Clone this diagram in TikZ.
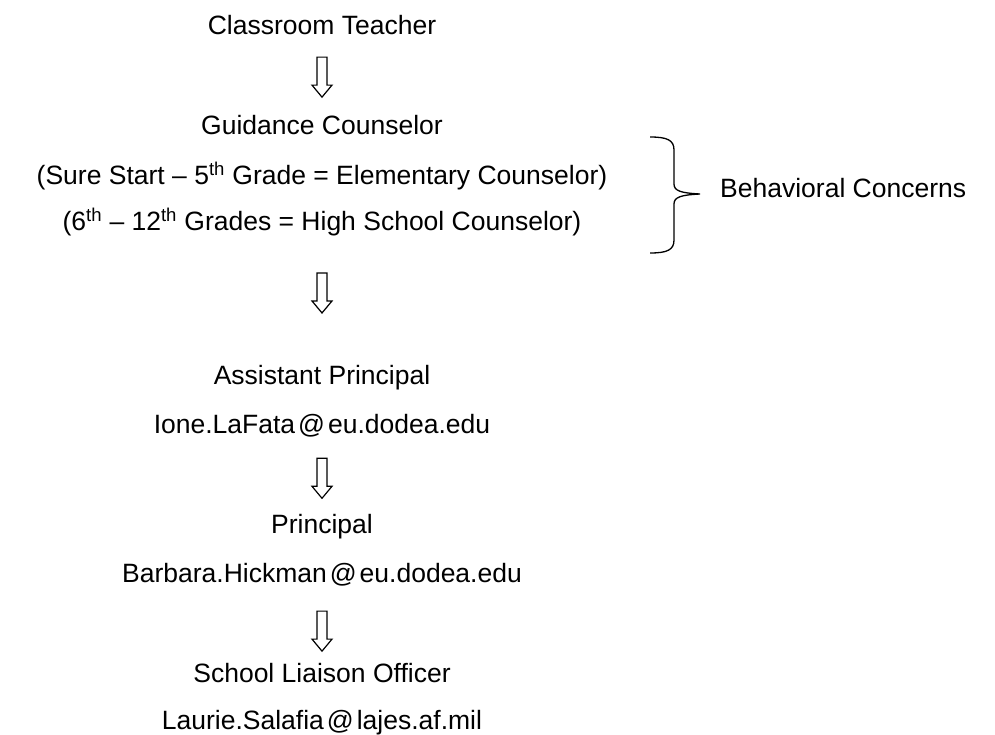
\documentclass[tikz,border=0pt]{standalone}
\usepackage{fontspec}
\setmainfont{Liberation Sans}
\newcommand{\mailat}{\hspace{3pt}@\hspace{3pt}}

\begin{document}
\begin{tikzpicture}
  [x=1pt,y=-1pt,
   every node/.style={inner sep=0pt,anchor=base,font=\fontsize{26.5}{30}\selectfont},
   downblock/.pic={
     \draw[line width=1.2pt] (-5,-20) -- (5,-20) -- (5,8) -- (10,8) -- (0,20)
       -- (-10,8) -- (-5,8) -- cycle;}]
  \useasboundingbox (0,0) rectangle (995,735);

  \node (teacher) at (322,35) {Classroom Teacher};
  \node (guide)   at (322,135) {Guidance Counselor};
  \node (elem)    at (322,185) {(Sure Start \textendash{} 5\textsuperscript{th} Grade = Elementary Counselor)};
  \node (high)    at (322,231) {(6\textsuperscript{th} \textendash{} 12\textsuperscript{th} Grades = High School Counselor)};
  \node (behave)[anchor=base west] at (720,198) {Behavioral Concerns};
  \node (asst)    at (322,384) {Assistant Principal};
  \node (asstmail) at (322,433) {Ione.LaFata\mailat eu.dodea.edu};
  \node (princ)   at (322,533) {Principal};
  \node (princmail) at (322,582) {Barbara.Hickman\mailat eu.dodea.edu};
  \node (slo)     at (322,682) {School Liaison Officer};
  \node (slomail) at (322,729) {Laurie.Salafia\mailat lajes.af.mil};

  % brace round the counselor lines
  \draw[line width=1.3pt] (650,137) .. controls (667,137) and (674,140) .. (674,150)
    -- (674,184) .. controls (674,191) and (681,193) .. (700,194)
    .. controls (681,195) and (674,197) .. (674,204)
    -- (674,240) .. controls (674,250) and (667,253) .. (650,253);

 \foreach \from/\to/\p in {teacher/guide/0.52,high/asst/0.44,asstmail/princ/0.54,princmail/slo/0.59}
    \path (\from) -- (\to) pic[pos=\p] {downblock};

\end{tikzpicture}
\end{document}
